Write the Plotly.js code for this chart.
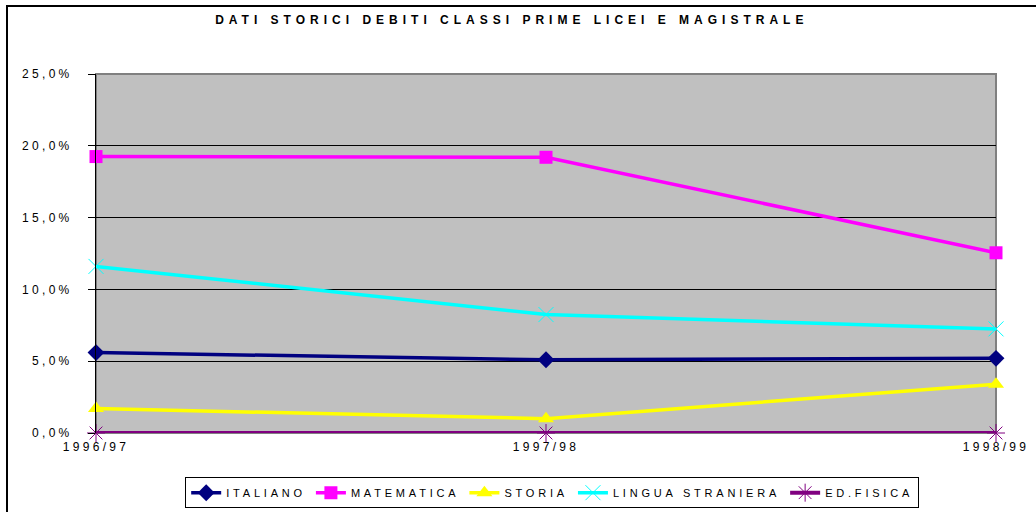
<!DOCTYPE html>
<html>
<head>
<meta charset="utf-8">
<script src="https://cdn.plot.ly/plotly-3.0.1.min.js"></script>
<style>
  body { margin: 0; background: #fff; }
  #wrap { position: relative; width: 1036px; height: 512px; }
  #frame { position: absolute; left: 6px; top: 5px; width: 1040px; height: 520px;
           border-left: 2px solid #000; border-top: 2px solid #000; pointer-events: none; }
  svg text { letter-spacing: 3.3px; }
  svg text.legendtext { letter-spacing: 3.8px; }
  #graph .gtitle { letter-spacing: 5px !important; }
</style>
</head>
<body>
<div id="wrap">
  <div id="graph" style="width:1036px;height:512px;"></div>
  <div id="frame"></div>
</div>
<script>
var years = ["1996/97", "1997/98", "1998/99"];

var italiano = [5.6, 5.1, 5.2];
var matematica = [19.25, 19.2, 12.55];
var storia = [1.7, 1.0, 3.4];
var lingua = [11.6, 8.25, 7.25];
var edfisica = [0, 0, 0];

var names = ["ITALIANO", "MATEMATICA", "STORIA", "LINGUA STRANIERA", "ED.FISICA"];
var series = [italiano, matematica, storia, lingua, edfisica];
var colors = ["#000080", "#FF00FF", "#FFFF00", "#00FFFF", "#800080"];
var symbols = ["diamond", "square", "triangle-up", "x-thin", "asterisk"];
var sizes = [13, 13, 14, 15, 15];

var traces = [];
for (var i = 0; i < series.length; i++) {
  var thin = symbols[i] == "x-thin" || symbols[i] == "asterisk";
  traces.push({
    x: years,
    y: series[i],
    name: names[i],
    type: 'scatter',
    mode: 'lines+markers',
    cliponaxis: false,
    line: { color: colors[i], width: i == 4 ? 4 : 3.5 },
    marker: {
      symbol: symbols[i],
      size: sizes[i],
      color: colors[i],
      line: { color: colors[i], width: thin ? 1 : 0 }
    }
  });
}

var layout = {
  width: 1036,
  height: 512,
  margin: { l: 96, r: 40, t: 74, b: 79, autoexpand: false },
  paper_bgcolor: '#ffffff',
  plot_bgcolor: '#C0C0C0',
  font: { family: 'Liberation Sans, Arial, sans-serif', size: 12, color: '#000' },
  separators: ',.',
  title: {
    text: 'DATI STORICI DEBITI CLASSI PRIME LICEI E MAGISTRALE',
    font: { size: 12, color: '#000', weight: 'bold' },
    x: 0.494, xanchor: 'center', y: 0.961, yanchor: 'middle'
  },
  xaxis: {
    type: 'category',
    range: [0, 2],
    showgrid: false,
    zeroline: false,
    showline: false,
    ticks: '',
    tickfont: { size: 12 },
    ticklabelstandoff: 5
  },
  yaxis: {
    range: [0, 25],
    dtick: 5,
    tickformat: '.1f',
    ticksuffix: '%',
    showgrid: true,
    gridcolor: '#000000',
    gridwidth: 1,
    zeroline: false,
    showline: true,
    linecolor: '#000000',
    linewidth: 1,
    ticks: 'outside',
    ticklen: 7,
    tickcolor: '#000000',
    tickfont: { size: 12 },
    ticklabelstandoff: 13
  },
  shapes: [{
    type: 'rect', xref: 'paper', yref: 'paper', x0: 0, x1: 1, y0: 0, y1: 1,
    line: { color: '#808080', width: 2 }, layer: 'below'
  }],
  showlegend: true,
  legend: {
    orientation: 'h',
    xref: 'container', yref: 'container',
    x: 0.533, xanchor: 'center',
    y: 0.068, yanchor: 'top',
    bordercolor: '#000000',
    borderwidth: 1,
    font: { size: 11 },
    itemwidth: 30,
    tracegroupgap: 0
  }
};

Plotly.newPlot('graph', traces, layout, { displayModeBar: false, staticPlot: true });
</script>
</body>
</html>
